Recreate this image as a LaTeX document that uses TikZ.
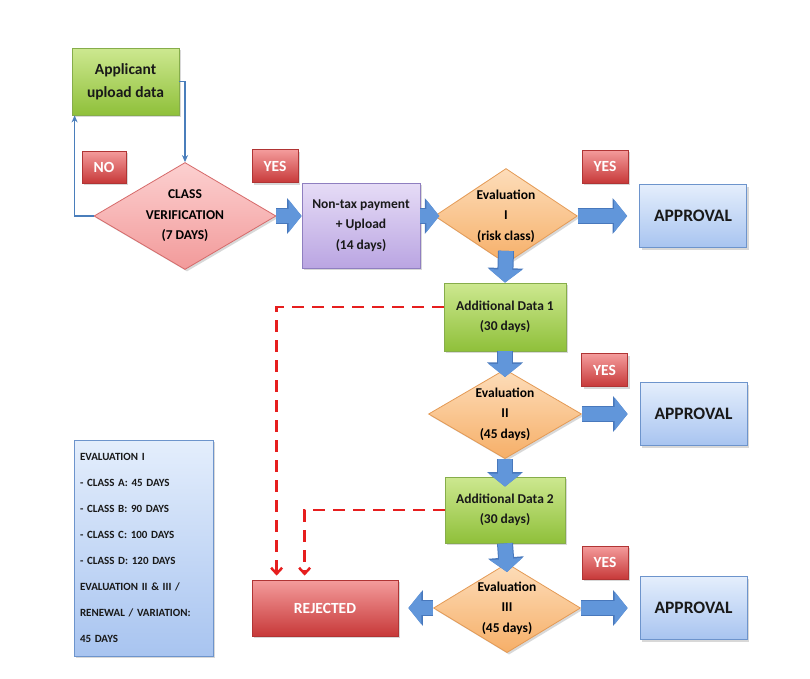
\documentclass[tikz,border=0pt]{standalone}
\usepackage{fontspec}
\setmainfont{Carlito}
\usetikzlibrary{shapes.geometric,arrows.meta,shadows}
\definecolor{greenT}{HTML}{CDE890}
\definecolor{greenB}{HTML}{8FC03A}
\definecolor{greenD}{HTML}{86AD4A}
\definecolor{pinkT}{HTML}{FCD0D0}
\definecolor{pinkB}{HTML}{F29A9A}
\definecolor{pinkD}{HTML}{D66A6A}
\definecolor{purpT}{HTML}{E6DCF6}
\definecolor{purpB}{HTML}{BAA5E2}
\definecolor{purpD}{HTML}{8F7FC0}
\definecolor{orT}{HTML}{FDDDBA}
\definecolor{orB}{HTML}{F6AF68}
\definecolor{orD}{HTML}{E49A55}
\definecolor{blT}{HTML}{E4EEFC}
\definecolor{blB}{HTML}{A8C4F0}
\definecolor{blD}{HTML}{6D94CC}
\definecolor{redT}{HTML}{F49C9C}
\definecolor{redB}{HTML}{C73939}
\definecolor{redD}{HTML}{B03434}
\definecolor{arrowblue}{HTML}{6196DA}
\definecolor{arrowdark}{HTML}{4878BC}
\definecolor{lineblue}{HTML}{4A7EBB}
\definecolor{dashred}{HTML}{E61E1E}
\tikzset{
  shad/.style={drop shadow={shadow xshift=2pt,shadow yshift=-2pt,opacity=0.3}},
  basebox/.style={rectangle,line width=0.8pt,align=center,inner sep=2pt,shad,
    font=\fontsize{13.5}{20.5}\selectfont\bfseries,text=black!90},
  greenbox/.style={basebox,draw=greenD,top color=greenT,bottom color=greenB},
  purpbox/.style={basebox,draw=purpD,top color=purpT,bottom color=purpB},
  apprbox/.style={basebox,draw=blD,top color=blT,bottom color=blB,
    minimum width=107pt,minimum height=63pt,font=\fontsize{17.5}{20}\selectfont\bfseries},
  tagbox/.style={basebox,draw=redD,top color=redT,bottom color=redB,text=white,
    minimum width=46pt,minimum height=33pt,font=\fontsize{15.5}{16}\selectfont\bfseries},
  rejbox/.style={basebox,draw=redD,top color=redT,bottom color=redB,text=white,
    font=\fontsize{15.5}{16}\selectfont\bfseries},
  legbox/.style={basebox,draw=blD,top color=blT,bottom color=blB,align=left,
    font=\fontsize{11}{26}\selectfont\bfseries},
  pinkdia/.style={diamond,aspect=1.7,inner sep=0pt,line width=0.8pt,align=center,shad,
    draw=pinkD,top color=pinkT,bottom color=pinkB,font=\fontsize{13.5}{20.5}\selectfont\bfseries},
  ordia/.style={diamond,aspect=1.6,inner sep=0pt,line width=0.8pt,align=center,shad,
    draw=orD,top color=orT,bottom color=orB,font=\fontsize{13.5}{20.5}\selectfont\bfseries},
  barrow/.style={draw=arrowblue,line width=14pt,-{Triangle[length=13pt,width=32pt]},
    preaction={draw=arrowdark,line width=16pt,-{Triangle[length=14.5pt,width=35pt]}}},
  thinarrow/.style={draw=lineblue,line width=1.6pt,-{Stealth[length=7pt,width=6pt]}},
  reddash/.style={draw=dashred,line width=2.5pt,dash pattern=on 12pt off 8pt,
    -{Straight Barb[length=6pt,width=11pt]}}
}
\begin{document}
\begin{tikzpicture}[x=1pt,y=-1pt]
\useasboundingbox (0,0) rectangle (810,678);
\fill[white] (0,0) rectangle (810,678);

% nodes
\node[greenbox,minimum width=107pt,minimum height=67pt,font=\fontsize{15.5}{23}\selectfont\bfseries] (app) at (125.5,81.5) {Applicant\\upload data};
\node[pinkdia,minimum width=182pt,minimum height=107pt] (cv) at (185,216) {CLASS\\VERIFICATION\\(7 DAYS)};
\node[tagbox,minimum width=44pt,minimum height=32pt] (no) at (104,167) {NO};
\node[tagbox] (yes1) at (275,166) {YES};
\node[purpbox,minimum width=118pt,minimum height=85pt] (pur) at (361,225.5) {Non-tax payment\\+ Upload\\(14 days)};
\node[ordia,minimum width=140pt,minimum height=95pt] (e1) at (506,216) {Evaluation\\I\\(risk class)};
\node[tagbox] (yes2) at (605,166.5) {YES};
\node[apprbox] (ap1) at (693,216) {APPROVAL};
\node[greenbox,minimum width=122pt,minimum height=68pt] (ad1) at (505,317) {Additional Data 1\\(30 days)};
\node[ordia,minimum width=153pt,minimum height=85pt] (e2) at (505,414) {Evaluation\\II\\(45 days)};
\node[tagbox] (yes3) at (604.5,370) {YES};
\node[apprbox] (ap2) at (693.5,414) {APPROVAL};
\node[greenbox,minimum width=120pt,minimum height=66pt] (ad2) at (505,510) {Additional Data 2\\(30 days)};
\node[ordia,minimum width=147pt,minimum height=87pt] (e3) at (507,608) {Evaluation\\III\\(45 days)};
\node[tagbox] (yes4) at (605,562.5) {YES};
\node[apprbox] (ap3) at (693.5,608) {APPROVAL};
\node[rejbox,minimum width=146pt,minimum height=56pt] (rej) at (325,608) {REJECTED};
\node[legbox,text width=127pt,inner xsep=6pt,minimum width=139pt,minimum height=216pt] (leg) at (143.5,548)
  {EVALUATION I\\- CLASS A: 45 DAYS\\- CLASS B: 90 DAYS\\- CLASS C: 100 DAYS\\- CLASS D: 120 DAYS\\EVALUATION II \& III /\\RENEWAL / VARIATION:\\45 DAYS};

% thin connectors
\draw[thinarrow] (app.east) -| (cv.north);
\draw[thinarrow] (cv.west) -| ([xshift=3pt]app.south west);

% dashed rejections
\draw[reddash] ([yshift=10pt]ad1.west) -| ([xshift=25pt,yshift=4pt]rej.north west);
\draw[reddash] (ad2.west) -| ([xshift=53pt,yshift=4pt]rej.north west);

% block arrows
\draw[barrow] (cv.east) -- (cv.east -| pur.west);
\draw[barrow] (pur.east |- e1.west) -- ([xshift=5pt]e1.west);
\draw[barrow] (e1.east) -- ([xshift=-12pt]ap1.west);
\draw[barrow] ([yshift=13pt]e1.south) -- (ad1.north);
\draw[barrow] (ad1.south) -- ([yshift=-8pt]e2.north);
\draw[barrow] (e2.east) -- ([xshift=-12pt]ap2.west);
\draw[barrow] (e2.south) -- ([yshift=-10pt]ad2.north);
\draw[barrow] (ad2.south) -- ([yshift=-9pt]e3.north);
\draw[barrow] (e3.east) -- ([xshift=-12pt]ap3.west);
\draw[barrow] (e3.west) -- ([xshift=10pt]rej.east);
\end{tikzpicture}
\end{document}
